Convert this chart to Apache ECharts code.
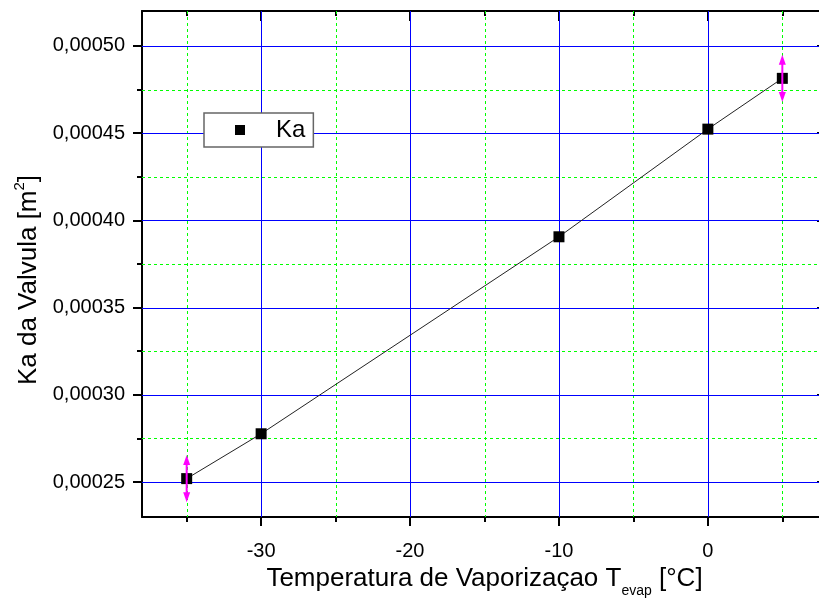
<!DOCTYPE html>
<html>
<head>
<meta charset="utf-8">
<script src="https://cdn.jsdelivr.net/npm/echarts@6/dist/echarts.min.js"></script>
<style>html,body{margin:0;padding:0;background:#fff}#c{width:819px;height:598px}</style>
</head>
<body>
<div id="c"></div>
<script>
// ---- data ----
const temps = [-35, -30, -10, 0, 5];
const kaVals = [0.000252, 0.0002777, 0.0003906, 0.0004523, 0.0004814];
const errVals = [0.0000135, 0, 0, 0, 0.0000135];
const xMajorTicks = [-30, -20, -10, 0];
const xMinorTicks = [-35, -25, -15, -5, 5];
const yMajorTicks = [0.00025, 0.00030, 0.00035, 0.00040, 0.00045, 0.00050];
const yMinorTicks = [0.000275, 0.000325, 0.000375, 0.000425, 0.000475];
const xRange = [-38, 8];
const yRange = [0.00023, 0.00052];
const seriesName = 'Ka';

const FONT = '"Liberation Sans", Arial, sans-serif';
const chart = echarts.init(document.getElementById('c'), null, {renderer: 'canvas'});

function xAxisDef(opts) {
  return Object.assign({
    type: 'value', min: xRange[0], max: xRange[1], gridIndex: 0,
    axisLine: {show: false, onZero: false}, axisLabel: {show: false}, splitLine: {show: false},
    axisTick: {show: false}
  }, opts);
}
function yAxisDef(opts) {
  return Object.assign({
    type: 'value', min: yRange[0], max: yRange[1], gridIndex: 0,
    axisLine: {show: false, onZero: false}, axisLabel: {show: false}, splitLine: {show: false},
    axisTick: {show: false}
  }, opts);
}
const fmtY = v => v.toFixed(5).replace('.', ',');

// grid lines drawn through the axis scales (custom series)
function gridLines(vals, vertical, color, dash) {
  return {
    type: 'custom', xAxisIndex: 0, yAxisIndex: 0, silent: true, z: 1,
    data: vals.map(v => vertical ? [v, yRange[0]] : [xRange[0], v]),
    encode: {x: 0, y: 1},
    clip: false,
    renderItem: function (params, api) {
      const cs = params.coordSys;
      const p = api.coord([api.value(0), api.value(1)]);
      const shape = vertical
        ? {x1: Math.round(p[0]) + 0.5, y1: cs.y, x2: Math.round(p[0]) + 0.5, y2: cs.y + cs.height}
        : {x1: cs.x, y1: Math.round(p[1]) + 0.5, x2: cs.x + cs.width, y2: Math.round(p[1]) + 0.5};
      return {type: 'line', shape: shape, style: {stroke: color, lineWidth: 1, lineDash: dash}};
    }
  };
}

const option = {
  animation: false,
  backgroundColor: '#fff',
  textStyle: {fontFamily: FONT},
  grid: {left: 142, top: 11, width: 685, height: 506, containLabel: false, outerBoundsMode: 'none'},
  legend: {
    left: 204, top: 113,
    data: [seriesName],
    icon: 'rect', itemWidth: 10, itemHeight: 10,
    backgroundColor: '#fff', borderColor: '#666', borderWidth: 1.5,
    padding: [5, 8, 5, 31],
    textStyle: {fontSize: 24, color: '#000', fontFamily: FONT, padding: [0, 0, 0, 26]}
  },
  xAxis: [
    xAxisDef({
      position: 'bottom',
      axisLine: {show: true, onZero: false, lineStyle: {color: '#000', width: 2}},
      axisTick: {show: true, inside: false, length: 9, customValues: xMajorTicks, lineStyle: {color: '#000', width: 2}},
      axisLabel: {show: true, customValues: xMajorTicks, fontSize: 20, color: '#000', margin: 24, fontFamily: FONT},
      name: '{a|Temperatura de Vaporizaçao T}{sub|evap}{a| [°C]}',
      nameLocation: 'middle', nameGap: 44,
      nameTextStyle: {
        rich: {
          a: {fontSize: 26, color: '#000', fontFamily: FONT, lineHeight: 30, verticalAlign: 'bottom'},
          sub: {fontSize: 14, color: '#000', fontFamily: FONT, lineHeight: 30, verticalAlign: 'bottom', padding: [0, 0, -6, 0]}
        }
      }
    }),
    xAxisDef({
      position: 'bottom',
      axisTick: {show: true, inside: false, length: 5, customValues: xMinorTicks, lineStyle: {color: '#000', width: 2}}
    }),
    xAxisDef({
      position: 'top',
      axisLine: {show: true, onZero: false, lineStyle: {color: '#000', width: 2}},
      axisTick: {show: true, inside: true, length: 10, customValues: xMajorTicks, lineStyle: {color: '#000', width: 2}}
    }),
    xAxisDef({
      position: 'top',
      axisTick: {show: true, inside: true, length: 5, customValues: xMinorTicks, lineStyle: {color: '#000', width: 2}}
    })
  ],
  yAxis: [
    yAxisDef({
      position: 'left',
      axisLine: {show: true, onZero: false, lineStyle: {color: '#000', width: 2}},
      axisTick: {show: true, inside: false, length: 9, customValues: yMajorTicks, lineStyle: {color: '#000', width: 2}},
      axisLabel: {show: true, customValues: yMajorTicks, fontSize: 20, color: '#000', margin: 17, fontFamily: FONT, formatter: fmtY},
      name: '{a|Ka da Valvula [m}{sup|2}{a|]}',
      nameLocation: 'middle', nameGap: 100,
      nameTextStyle: {
        padding: [0, 32, 0, 0],
        rich: {
          a: {fontSize: 26, color: '#000', fontFamily: FONT, lineHeight: 30, verticalAlign: 'bottom'},
          sup: {fontSize: 15, color: '#000', fontFamily: FONT, lineHeight: 30, verticalAlign: 'bottom', padding: [0, 0, 14, 0]}
        }
      }
    }),
    yAxisDef({
      position: 'left',
      axisTick: {show: true, inside: false, length: 5, customValues: yMinorTicks, lineStyle: {color: '#000', width: 2}}
    }),
    yAxisDef({
      position: 'right',
      axisLine: {show: true, onZero: false, lineStyle: {color: '#000', width: 2}},
      axisTick: {show: true, inside: true, length: 10, customValues: yMajorTicks, lineStyle: {color: '#000', width: 2}}
    }),
    yAxisDef({
      position: 'right',
      axisTick: {show: true, inside: true, length: 5, customValues: yMinorTicks, lineStyle: {color: '#000', width: 2}}
    })
  ],
  series: [
    gridLines(xMinorTicks, true, '#00ff00', [3, 3]),
    gridLines(yMinorTicks, false, '#00ff00', [3, 3]),
    gridLines(xMajorTicks, true, '#0000ff', null),
    gridLines(yMajorTicks, false, '#0000ff', null),
    {
      name: seriesName, type: 'line', xAxisIndex: 0, yAxisIndex: 0,
      data: temps.map((t, i) => [t, kaVals[i]]),
      symbol: 'rect', symbolSize: 11,
      itemStyle: {color: '#000'},
      lineStyle: {color: '#222', width: 1},
      z: 5
    },
    {
      name: 'err', type: 'custom', xAxisIndex: 0, yAxisIndex: 0,
      data: temps.map((t, i) => [t, kaVals[i], errVals[i]]),
      z: 6,
      renderItem: function (params, api) {
        const x = api.value(0), y = api.value(1), e = api.value(2);
        if (!e) return null;
        const top = api.coord([x, y + e]);
        const bot = api.coord([x, y - e]);
        const hl = 10, hw = 3.5;
        const col = '#ff00ff';
        return {
          type: 'group',
          children: [
            {type: 'line', shape: {x1: top[0], y1: top[1] + hl - 1, x2: bot[0], y2: bot[1] - hl + 1}, style: {stroke: col, lineWidth: 2}},
            {type: 'polygon', shape: {points: [[top[0], top[1]], [top[0] - hw, top[1] + hl], [top[0] + hw, top[1] + hl]]}, style: {fill: col}},
            {type: 'polygon', shape: {points: [[bot[0], bot[1]], [bot[0] - hw, bot[1] - hl], [bot[0] + hw, bot[1] - hl]]}, style: {fill: col}}
          ]
        };
      }
    }
  ]
};
chart.setOption(option);
</script>
</body>
</html>
